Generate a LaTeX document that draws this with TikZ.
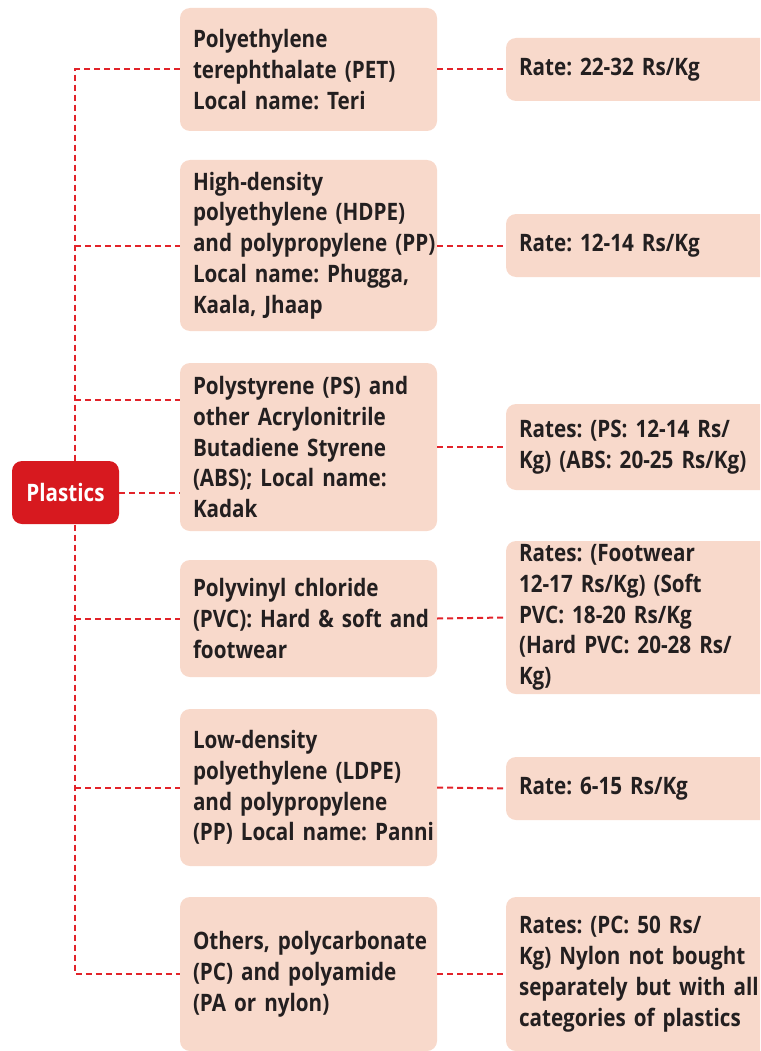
\documentclass[tikz,border=0pt]{standalone}
\usepackage{fontspec}
\newfontfamily\boxfont[FakeStretch=0.86]{Open Sans}
\definecolor{boxfill}{HTML}{F8D9CB}
\definecolor{rootred}{HTML}{D7191F}
\definecolor{linkred}{HTML}{E2232A}
\definecolor{inkgray}{HTML}{231F20}
\tikzset{
  x=1pt, y=-1pt,
  boxtext/.style={font=\boxfont\bfseries\fontsize{24}{30.8}\selectfont\frenchspacing, text=inkgray},
  leftbox/.style={boxtext, fill=boxfill, rounded corners=10pt, inner xsep=13pt, inner ysep=0pt,
    text width=231pt, align=left, minimum width=257pt},
  ratebox/.style={boxtext, fill=boxfill, rounded corners=10pt, inner xsep=13pt, inner ysep=0pt,
    text width=239pt, align=left, minimum width=265pt},
  rootbox/.style={fill=rootred, rounded corners=10pt, text=white, minimum width=107pt, minimum height=63pt,
    font=\boxfont\bfseries\fontsize{24}{28}\selectfont},
  link/.style={draw=linkred, line width=2pt, dash pattern=on 6pt off 4pt}
}
\begin{document}
\begin{tikzpicture}
\useasboundingbox (0,0) rectangle (760,1051);
\clip (0,0) rectangle (760,1051);

% material categories
\node[leftbox, minimum height=123pt] (L1) at (308.5,69.5)
  {Polyethylene\\terephthalate (PET)\\Local name: Teri};
\node[leftbox, minimum height=171pt] (L2) at (308.5,245.5)
  {High-density\\polyethylene (HDPE)\\\mbox{and polypropylene (PP)}\\Local name: Phugga,\\Kaala, Jhaap};
\node[leftbox, minimum height=168pt] (L3) at (308.5,447)
  {Polystyrene (PS) and\\other Acrylonitrile\\Butadiene Styrene\\(ABS); Local name:\\Kadak};
\node[leftbox, minimum height=117pt] (L4) at (308.5,618.5)
  {Polyvinyl chloride\\\mbox{(PVC): Hard \& soft and}\\footwear};
\node[leftbox, minimum height=157pt] (L5) at (308.5,787.5)
  {Low-density\\polyethylene (LDPE)\\and polypropylene\\\mbox{(PP) Local name: Panni}};
\node[leftbox, minimum height=154pt] (L6) at (308.5,974)
  {\mbox{Others, polycarbonate}\\(PC) and polyamide\\(PA or nylon)};

% rates
\node[ratebox, minimum height=63pt] (R1) at (638.5,69.5) {Rate: 22-32 Rs/Kg};
\node[ratebox, minimum height=63pt] (R2) at (638.5,245.5) {Rate: 12-14 Rs/Kg};
\node[ratebox, minimum height=86pt] (R3) at (638.5,447) {Rates: (PS: 12-14 Rs/\\\mbox{Kg) (ABS: 20-25 Rs/Kg)}};
\node[ratebox, minimum height=153pt] (R4) at (638.5,617.5)
  {Rates: (Footwear\\12-17 Rs/Kg) (Soft\\PVC: 18-20 Rs/Kg\\\mbox{(Hard PVC: 20-28 Rs/}\\Kg)};
\node[ratebox, minimum height=63pt] (R5) at (638.5,788.5) {Rate: 6-15 Rs/Kg};
\node[ratebox, minimum height=154pt] (R6) at (638.5,974)
  {Rates: (PC: 50 Rs/\\\mbox{Kg) Nylon not bought}\\\mbox{separately but with all}\\\mbox{categories of plastics}};

% trunk and branches
\coordinate (trunk) at (75,0);
\draw[link] (L1.west) -- (L1.west -| trunk) -- (L6.west -| trunk) -- (L6.west);
\draw[link] (L2.west -| trunk) -- (L2.west);
\draw[link] ([yshift=47pt]L3.west -| trunk) -- ([yshift=47pt]L3.west);
\draw[link] (L4.west -| trunk) -- (L4.west);
\draw[link] (L5.west -| trunk) -- (L5.west);

% category to rate links
\foreach \i in {1,...,6} { \draw[link] (L\i.east) -- (R\i.west); }

% root
\node[rootbox] (P) at (65.5,492.5) {Plastics};
\draw[link] (P.east) -- (P.east -| L3.west);
\end{tikzpicture}
\end{document}
